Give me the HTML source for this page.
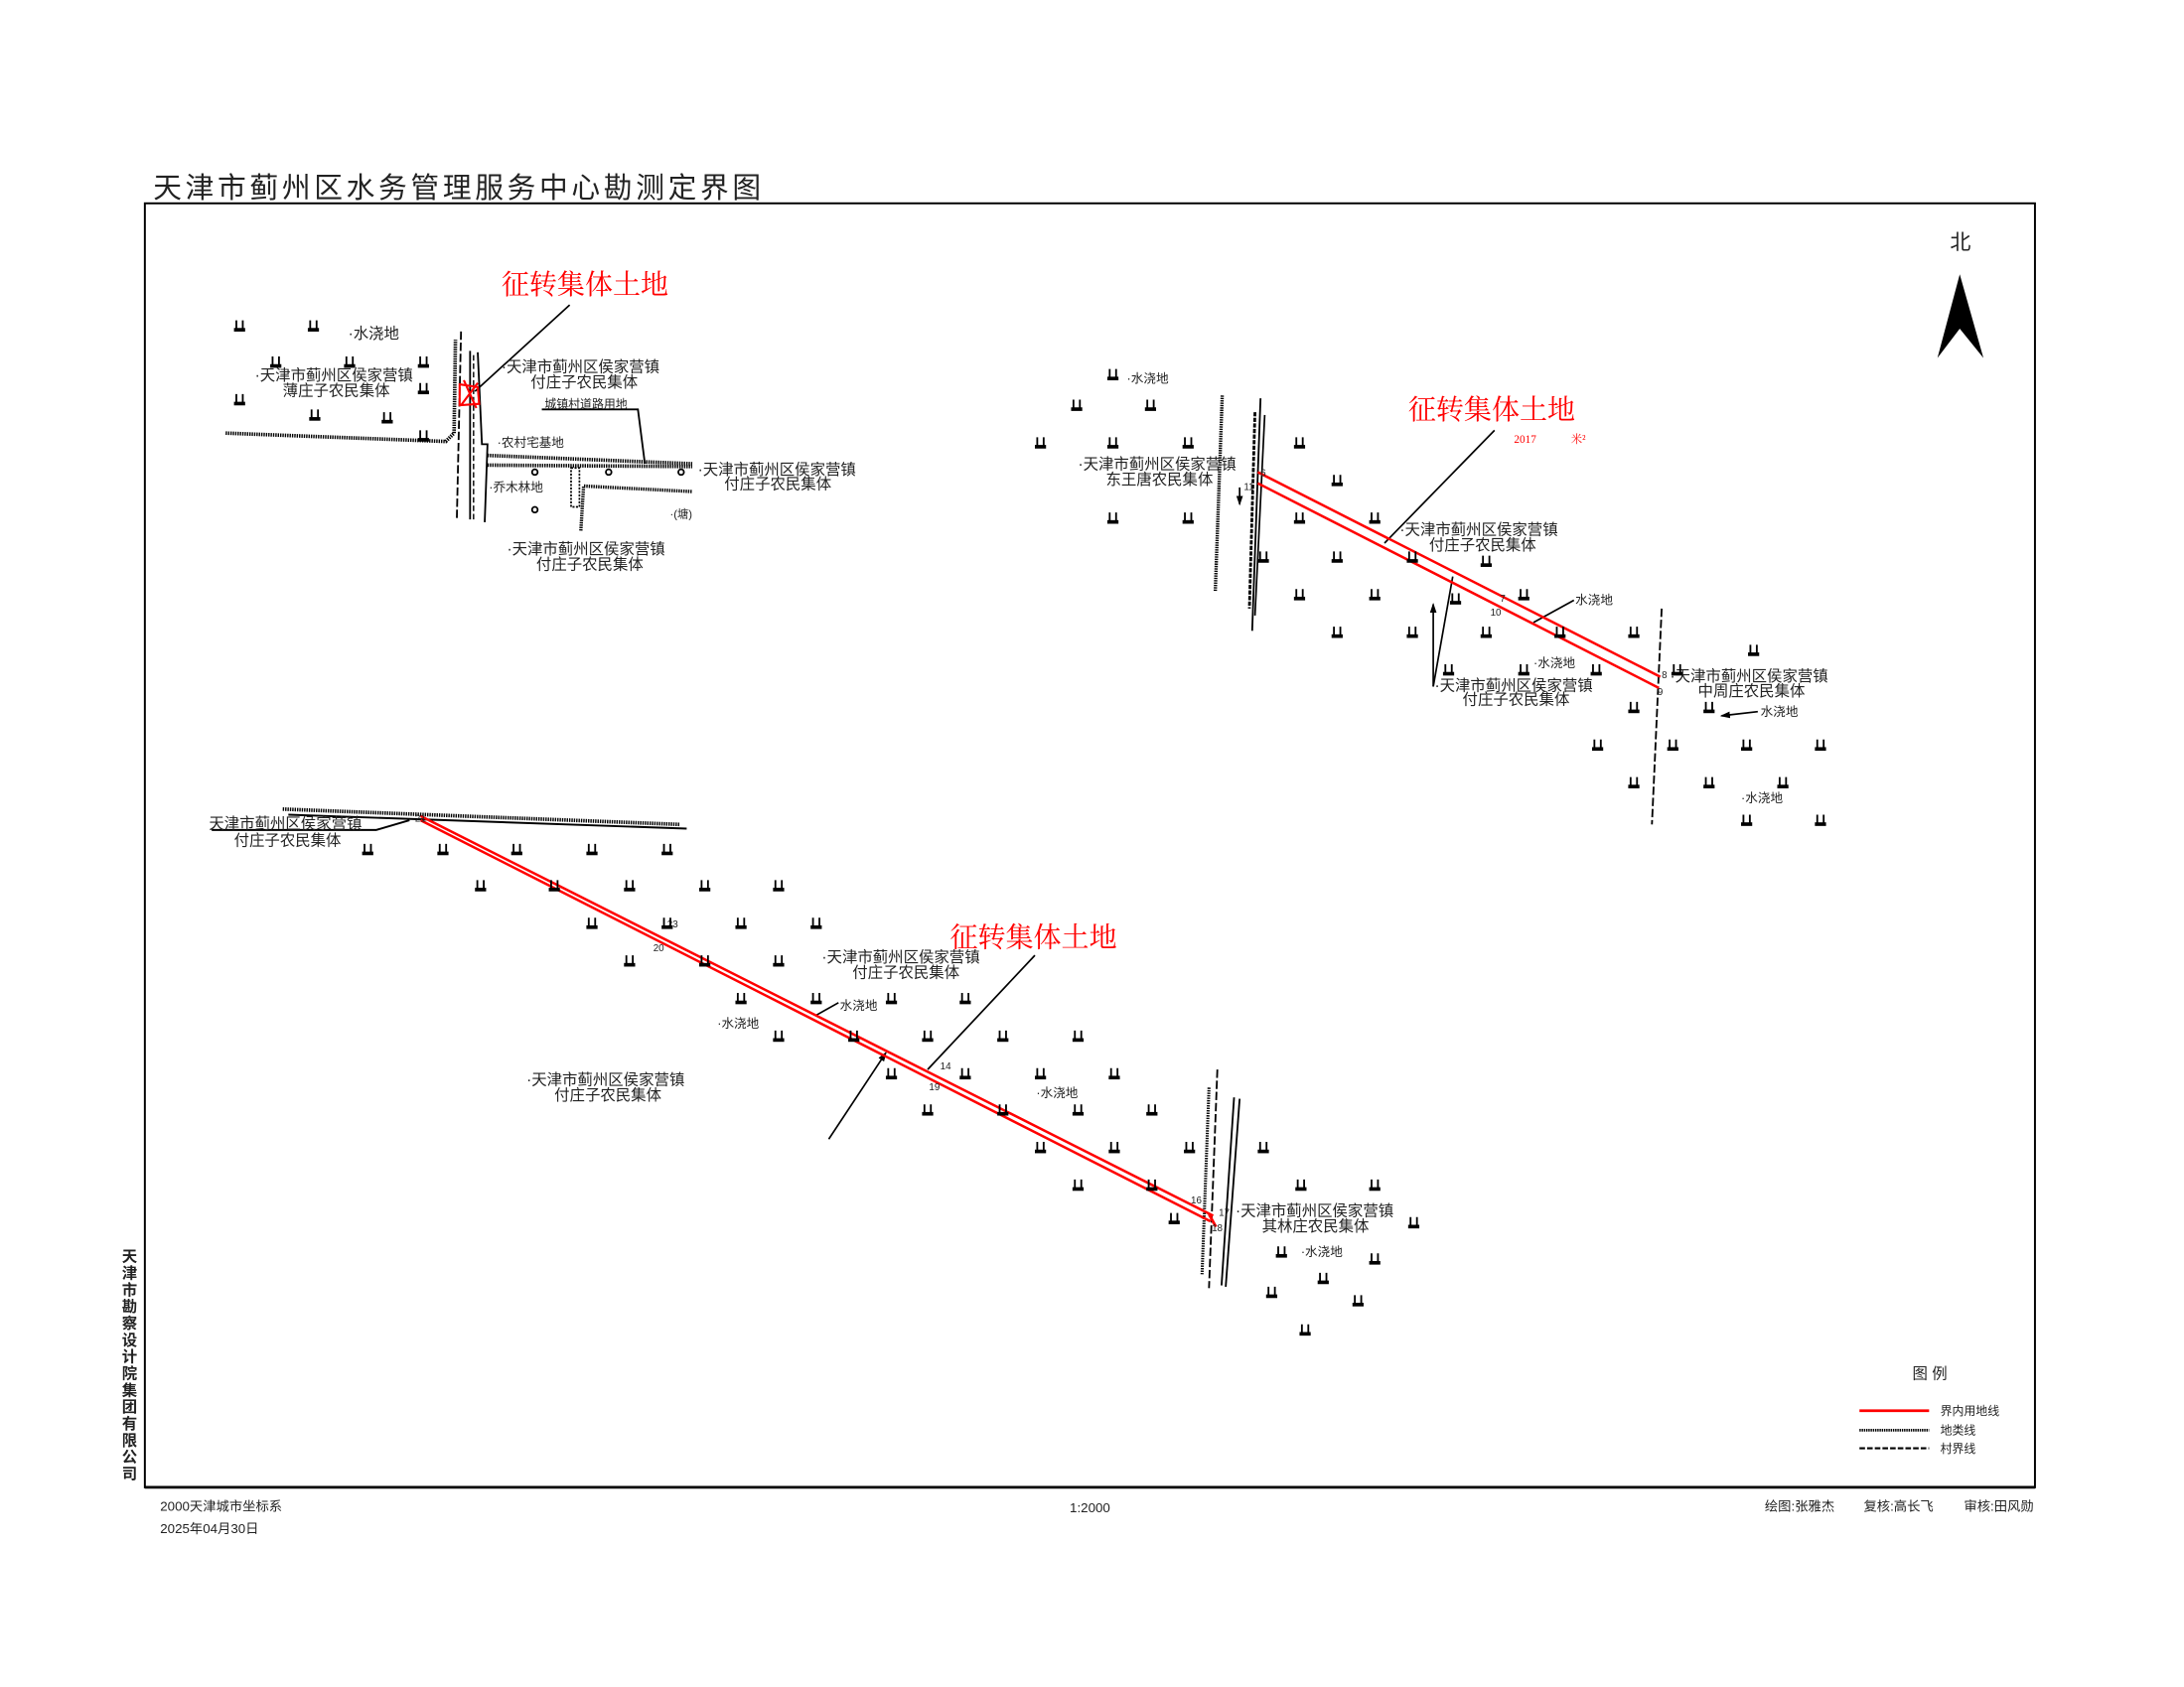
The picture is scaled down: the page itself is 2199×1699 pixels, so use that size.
<!DOCTYPE html>
<html><head><meta charset="utf-8">
<style>
html,body{margin:0;padding:0;background:#fff;}
svg{display:block;}
text{font-family:"Liberation Sans","Noto Sans CJK SC",sans-serif;fill:#222;}
.l{font-size:11px;}
.r{fill:#f00;}
.rs{font-family:"Liberation Serif","Noto Serif CJK SC",serif;fill:#f00;}
</style></head>
<body>
<svg width="2199" height="1699" viewBox="0 0 1568 1211.4" preserveAspectRatio="none" xmlns="http://www.w3.org/2000/svg">
<defs>
<g id="t"><path d="M-2.3,-5V1 M2.3,-5V1" stroke="#000" stroke-width="1.3"/><rect x="-4" y="0.5" width="8" height="2.6" fill="#000"/></g>
<marker id="ah" markerWidth="6" markerHeight="6" refX="5" refY="3" orient="auto"><path d="M0,1 L6,3 L0,5Z" fill="#000"/></marker>
</defs>
<rect width="1568" height="1212" fill="#fff"/>
<text x="110" y="142" style="font-size:20.5px;letter-spacing:2.6px">天津市蓟州区水务管理服务中心勘测定界图</text>
<rect x="104" y="146" width="1357" height="922" fill="none" stroke="#000" stroke-width="1.4"/>
<line x1="104" y1="1068" x2="1461" y2="1068" stroke="#000" stroke-width="2"/>
<text x="1400" y="179" style="font-size:15px">北</text>
<path d="M1407,197 L1424,257 L1407,236 L1391,257Z" fill="#000"/>
<g style="font-size:11px;font-weight:bold" text-anchor="middle">
<text x="93" y="906">天</text><text x="93" y="918">津</text><text x="93" y="930">市</text><text x="93" y="942">勘</text><text x="93" y="954">察</text><text x="93" y="966">设</text><text x="93" y="978">计</text><text x="93" y="990">院</text><text x="93" y="1002">集</text><text x="93" y="1014">团</text><text x="93" y="1026">有</text><text x="93" y="1038">限</text><text x="93" y="1050">公</text><text x="93" y="1062">司</text>
</g>
<g style="font-size:9.5px">
<text x="115" y="1085">2000天津城市坐标系</text>
<text x="115" y="1101">2025年04月30日</text>
<text x="768" y="1086">1:2000</text>
<text x="1267" y="1085">绘图:张雅杰</text>
<text x="1338" y="1085">复核:高长飞</text>
<text x="1410" y="1085">审核:田风勋</text>
</g>
<text x="1373" y="990" style="font-size:11px">图  例</text>
<line x1="1335" y1="1013" x2="1385" y2="1013" stroke="#f00" stroke-width="2"/>
<line x1="1335" y1="1027" x2="1385" y2="1027" stroke="#000" stroke-width="2" stroke-dasharray="1 0.6"/>
<line x1="1335" y1="1040" x2="1385" y2="1040" stroke="#000" stroke-width="1.5" stroke-dasharray="4 1.5"/>
<g style="font-size:8.5px"><text x="1393" y="1016">界内用地线</text><text x="1393" y="1030">地类线</text><text x="1393" y="1043">村界线</text></g>

<text x="360" y="211" class="rs" style="font-size:20px">征转集体土地</text>
<line x1="409" y1="219" x2="341" y2="281" stroke="#000" stroke-width="1.2"/>
<g fill="none" stroke="#000">
<polyline points="162,311 320,317 326,311 327,244" stroke-width="2.6" stroke-dasharray="1 0.7"/>
<line x1="331" y1="238" x2="328" y2="372" stroke-width="1.3" stroke-dasharray="6 2"/>
<line x1="337.5" y1="252" x2="337.5" y2="373" stroke-width="1.3"/>
<line x1="340" y1="255" x2="340" y2="373" stroke-width="1" stroke-dasharray="4 2"/>
<polyline points="343,253 346,319 350,319 348,375" stroke-width="1.3"/>
<polyline points="389,294 458,294 463,333" stroke-width="1.3"/>
<line x1="350" y1="327" x2="497" y2="333" stroke-width="2.6" stroke-dasharray="1 0.7"/>
<line x1="350" y1="334" x2="497" y2="335" stroke-width="2.6" stroke-dasharray="1 0.7"/>
<rect x="410" y="336" width="6" height="28" stroke-width="1.2" stroke-dasharray="1.5 1"/>
<polyline points="417,381 419,349 497,353" stroke-width="2.4" stroke-dasharray="1 0.7"/>
<circle cx="384" cy="339" r="2" stroke-width="1.3"/><circle cx="437" cy="339" r="2" stroke-width="1.3"/><circle cx="489" cy="339" r="2" stroke-width="1.3"/><circle cx="384" cy="366" r="2" stroke-width="1.3"/>
<path d="M330,276 L343,278 L344,290 L330,291Z M333,273 L342,293 M343,275 L331,291" stroke="#f00" stroke-width="1.5"/>
</g>
<g class="l">
<text x="250" y="243">·水浇地</text>
<text x="183" y="273">·天津市蓟州区侯家营镇</text><text x="203" y="284">薄庄子农民集体</text>
<text x="360" y="267">·天津市蓟州区侯家营镇</text><text x="381" y="278">付庄子农民集体</text>
<text x="391" y="293" style="font-size:8.5px">城镇村道路用地</text>
<text x="357" y="321" style="font-size:9px">·农村宅基地</text>
<text x="501" y="341">·天津市蓟州区侯家营镇</text><text x="520" y="351">付庄子农民集体</text>
<text x="351" y="353" style="font-size:9px">·乔木林地</text>
<text x="481" y="372" style="font-size:8px">·(塘)</text>
<text x="364" y="398">·天津市蓟州区侯家营镇</text><text x="385" y="409">付庄子农民集体</text>
</g>
<g>
<use href="#t" x="172" y="235"/><use href="#t" x="225" y="235"/><use href="#t" x="198" y="261"/><use href="#t" x="251" y="261"/><use href="#t" x="304" y="261"/><use href="#t" x="172" y="288"/><use href="#t" x="304" y="280"/><use href="#t" x="226" y="299"/><use href="#t" x="278" y="301"/><use href="#t" x="304" y="314"/>
</g>

<text x="1011" y="301" class="rs" style="font-size:20px">征转集体土地</text>
<text x="1087" y="318" class="rs" style="font-size:8px">2017</text><text x="1128" y="318" class="rs" style="font-size:8px">米²</text>
<line x1="1073" y1="309" x2="994" y2="390" stroke="#000" stroke-width="1.2"/>
<g fill="none" stroke="#000">
<line x1="877.5" y1="284" x2="872.5" y2="425" stroke-width="2.4" stroke-dasharray="1 0.7"/>
<line x1="905" y1="286" x2="899" y2="453" stroke-width="1.3"/>
<line x1="901" y1="296" x2="897" y2="437" stroke-width="2" stroke-dasharray="3 1"/>
<line x1="908" y1="298" x2="901" y2="442" stroke-width="1.2"/>
<line x1="1193" y1="437" x2="1186" y2="592" stroke-width="1.3" stroke-dasharray="6 2"/>
<line x1="890" y1="350" x2="890" y2="362" stroke-width="1.2" marker-end="url(#ah)"/>
<line x1="1130" y1="431" x2="1101" y2="447" stroke-width="1.2"/>
<line x1="1029" y1="493" x2="1029" y2="434" stroke-width="1.2" marker-end="url(#ah)"/>
<line x1="1029" y1="493" x2="1043" y2="414" stroke-width="1.2"/>
<line x1="1262" y1="511" x2="1236" y2="514" stroke-width="1.2" marker-end="url(#ah)"/>
<line x1="903" y1="339" x2="1192" y2="486" stroke="#f00" stroke-width="1.8"/>
<line x1="903" y1="347" x2="1191" y2="494" stroke="#f00" stroke-width="1.8"/>
</g>
<g class="r" style="font-size:7px"><text x="905" y="342">6</text><text x="893" y="352">11</text><text x="1077" y="432">7</text><text x="1070" y="442">10</text><text x="1193" y="487">8</text><text x="1190" y="499">9</text></g>
<g class="l">
<text x="809" y="275" style="font-size:9px">·水浇地</text>
<text x="774" y="337">·天津市蓟州区侯家营镇</text><text x="794" y="348">东王唐农民集体</text>
<text x="1005" y="384">·天津市蓟州区侯家营镇</text><text x="1026" y="395">付庄子农民集体</text>
<text x="1131" y="434" style="font-size:9px">水浇地</text>
<text x="1101" y="479" style="font-size:9px">·水浇地</text>
<text x="1030" y="496">·天津市蓟州区侯家营镇</text><text x="1050" y="506">付庄子农民集体</text>
<text x="1199" y="489">·天津市蓟州区侯家营镇</text><text x="1219" y="500">中周庄农民集体</text>
<text x="1264" y="514" style="font-size:9px">水浇地</text>
<text x="1250" y="576" style="font-size:9px">·水浇地</text>
</g>
<g>
<use href="#t" x="799" y="270"/><use href="#t" x="773" y="292"/><use href="#t" x="826" y="292"/><use href="#t" x="747" y="319"/><use href="#t" x="799" y="319"/><use href="#t" x="853" y="319"/><use href="#t" x="933" y="319"/><use href="#t" x="960" y="346"/><use href="#t" x="799" y="373"/><use href="#t" x="853" y="373"/><use href="#t" x="933" y="373"/><use href="#t" x="987" y="373"/><use href="#t" x="907" y="401"/><use href="#t" x="960" y="401"/><use href="#t" x="1014" y="401"/><use href="#t" x="1067" y="404"/><use href="#t" x="933" y="428"/><use href="#t" x="987" y="428"/><use href="#t" x="1045" y="431"/><use href="#t" x="1094" y="428"/><use href="#t" x="960" y="455"/><use href="#t" x="1014" y="455"/><use href="#t" x="1067" y="455"/><use href="#t" x="1120" y="455"/><use href="#t" x="1173" y="455"/><use href="#t" x="1040" y="482"/><use href="#t" x="1094" y="482"/><use href="#t" x="1146" y="482"/><use href="#t" x="1204" y="482"/><use href="#t" x="1259" y="468"/><use href="#t" x="1173" y="509"/><use href="#t" x="1227" y="509"/><use href="#t" x="1147" y="536"/><use href="#t" x="1201" y="536"/><use href="#t" x="1254" y="536"/><use href="#t" x="1307" y="536"/><use href="#t" x="1173" y="563"/><use href="#t" x="1227" y="563"/><use href="#t" x="1280" y="563"/><use href="#t" x="1254" y="590"/><use href="#t" x="1307" y="590"/>
</g>

<g fill="none" stroke="#000">
<line x1="203" y1="581" x2="488" y2="592" stroke-width="2.6" stroke-dasharray="1 0.7"/>
<line x1="207" y1="585" x2="493" y2="595" stroke-width="1.4"/>
<polyline points="152,596 270,596 294,589" stroke-width="1.4"/>
<line x1="874" y1="768" x2="868" y2="925" stroke-width="1.3" stroke-dasharray="6 2"/>
<line x1="868" y1="781" x2="863" y2="915" stroke-width="2.2" stroke-dasharray="1 0.8"/>
<line x1="890" y1="789" x2="880" y2="924" stroke-width="1.3"/>
<line x1="886" y1="788" x2="877" y2="923" stroke-width="1.3"/>
<line x1="602" y1="720" x2="586" y2="729" stroke-width="1.2"/>
<line x1="595" y1="818" x2="636" y2="756" stroke-width="1.2" marker-end="url(#ah)"/>
<line x1="743" y1="686" x2="666" y2="768" stroke-width="1.2"/>
<line x1="302" y1="586" x2="871" y2="873" stroke="#f00" stroke-width="1.8"/>
<line x1="302" y1="589" x2="869" y2="877" stroke="#f00" stroke-width="1.8"/>
<line x1="868" y1="872" x2="873" y2="881" stroke="#f00" stroke-width="2"/>
</g>
<text x="682" y="680" class="rs" style="font-size:20px">征转集体土地</text>
<g class="r" style="font-size:7px"><text x="479" y="666">23</text><text x="469" y="683">20</text><text x="675" y="768">14</text><text x="667" y="783">19</text><text x="855" y="864">16</text><text x="875" y="873">17</text><text x="870" y="884">18</text><text x="298" y="590">21</text></g>
<g class="l">
<text x="150" y="595">天津市蓟州区侯家营镇</text><text x="168" y="607">付庄子农民集体</text>
<text x="590" y="691">·天津市蓟州区侯家营镇</text><text x="612" y="702">付庄子农民集体</text>
<text x="603" y="725" style="font-size:9px">水浇地</text>
<text x="515" y="738" style="font-size:9px">·水浇地</text>
<text x="378" y="779">·天津市蓟州区侯家营镇</text><text x="398" y="790">付庄子农民集体</text>
<text x="744" y="788" style="font-size:9px">·水浇地</text>
<text x="887" y="873">·天津市蓟州区侯家营镇</text><text x="906" y="884">其林庄农民集体</text>
<text x="934" y="902" style="font-size:9px">·水浇地</text>
</g>
<g>
<use href="#t" x="264" y="611"/><use href="#t" x="318" y="611"/><use href="#t" x="371" y="611"/><use href="#t" x="425" y="611"/><use href="#t" x="479" y="611"/><use href="#t" x="345" y="637"/><use href="#t" x="398" y="637"/><use href="#t" x="452" y="637"/><use href="#t" x="506" y="637"/><use href="#t" x="559" y="637"/><use href="#t" x="425" y="664"/><use href="#t" x="479" y="664"/><use href="#t" x="532" y="664"/><use href="#t" x="586" y="664"/><use href="#t" x="452" y="691"/><use href="#t" x="506" y="691"/><use href="#t" x="559" y="691"/><use href="#t" x="532" y="718"/><use href="#t" x="586" y="718"/><use href="#t" x="640" y="718"/><use href="#t" x="693" y="718"/><use href="#t" x="559" y="745"/><use href="#t" x="613" y="745"/><use href="#t" x="666" y="745"/><use href="#t" x="720" y="745"/><use href="#t" x="774" y="745"/><use href="#t" x="640" y="772"/><use href="#t" x="693" y="772"/><use href="#t" x="747" y="772"/><use href="#t" x="800" y="772"/><use href="#t" x="666" y="798"/><use href="#t" x="720" y="798"/><use href="#t" x="774" y="798"/><use href="#t" x="827" y="798"/><use href="#t" x="747" y="825"/><use href="#t" x="800" y="825"/><use href="#t" x="854" y="825"/><use href="#t" x="907" y="825"/><use href="#t" x="774" y="852"/><use href="#t" x="827" y="852"/><use href="#t" x="934" y="852"/><use href="#t" x="987" y="852"/><use href="#t" x="843" y="876"/><use href="#t" x="1015" y="879"/><use href="#t" x="920" y="900"/><use href="#t" x="987" y="905"/><use href="#t" x="950" y="919"/><use href="#t" x="913" y="929"/><use href="#t" x="975" y="935"/><use href="#t" x="937" y="956"/>
</g>
</svg>
</body></html>
